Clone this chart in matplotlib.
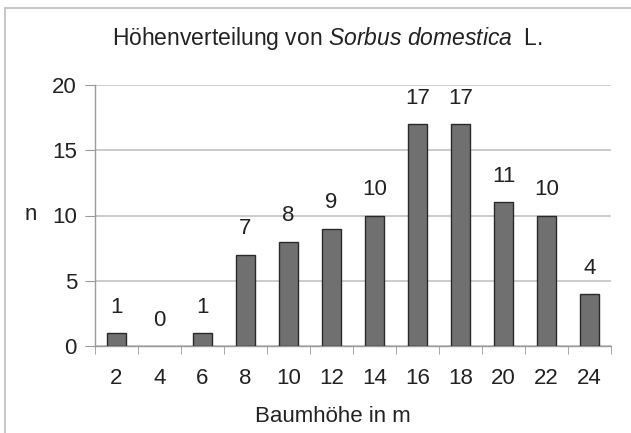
import matplotlib
matplotlib.use("Agg")
import matplotlib.pyplot as plt
from matplotlib.patches import Rectangle
import numpy as np

heights = [2, 4, 6, 8, 10, 12, 14, 16, 18, 20, 22, 24]
counts = [1, 0, 1, 7, 8, 9, 10, 17, 17, 11, 10, 4]
y_ticks = [0, 5, 10, 15, 20]

plt.rcParams["font.family"] = ["Liberation Sans", "DejaVu Sans"]
plt.rcParams["mathtext.fontset"] = "custom"
plt.rcParams["mathtext.rm"] = "Liberation Sans"
plt.rcParams["mathtext.it"] = "Liberation Sans:italic"
FS = 16
TXT = "#222222"

fig = plt.figure(figsize=(6.31, 4.33), dpi=100)
W, H = 631, 433

# outer chart frame (Excel-style)
fig.patches.append(Rectangle((5 / W, -0.1), 1.2, 1 - 8 / H + 0.1,
                             transform=fig.transFigure, fill=False,
                             edgecolor="#c8c8c8", linewidth=1.5))

ax = fig.add_axes([95 / W, 1 - 346 / H, (611 - 95) / W, (346 - 85) / H])

x = np.arange(len(heights))
edges = ["#2a2a2a" if c > 0 else "none" for c in counts]
ax.bar(x, counts, width=0.44, color="#707070", edgecolor=edges,
       linewidth=1.0, zorder=3)

for xi, c in zip(x, counts):
    ax.annotate(str(c), (xi, c), xytext=(0, 11), textcoords="offset points",
                ha="center", va="bottom", fontsize=FS, color=TXT)

ax.set_xlim(-0.5, len(heights) - 0.5)
ax.set_ylim(0, 20)
ax.set_yticks(y_ticks)
ax.set_yticklabels([str(t) for t in y_ticks], fontsize=FS, color=TXT)
ax.yaxis.grid(True, color="#c4c4c4", linewidth=1.2, zorder=0)

ax.set_xticks(x)
ax.set_xticklabels([str(h) for h in heights], fontsize=FS, color=TXT)
ax.tick_params(axis="x", length=0, pad=16)
ax.set_xticks(np.arange(len(heights) + 1) - 0.5, minor=True)
ax.tick_params(axis="x", which="minor", length=6, color="#999999", direction="out")
ax.tick_params(axis="y", length=7, color="#999999", pad=6)

for s in ["top", "right"]:
    ax.spines[s].set_visible(False)
for s in ["left", "bottom"]:
    ax.spines[s].set_color("#999999")
    ax.spines[s].set_linewidth(1.0)

fig.text(327 / W, 1 - 38 / H,
         r"Höhenverteilung von $\it{Sorbus\ domestica}$  L.",
         ha="center", va="center", fontsize=16.5, color=TXT)
fig.text(333 / W, 1 - 416 / H, "Baumhöhe in m", ha="center", va="center",
         fontsize=FS, color=TXT)
fig.text(31 / W, 1 - 215 / H, "n", ha="center", va="center",
         fontsize=FS, color=TXT)

fig.savefig("out.png", dpi=100)
